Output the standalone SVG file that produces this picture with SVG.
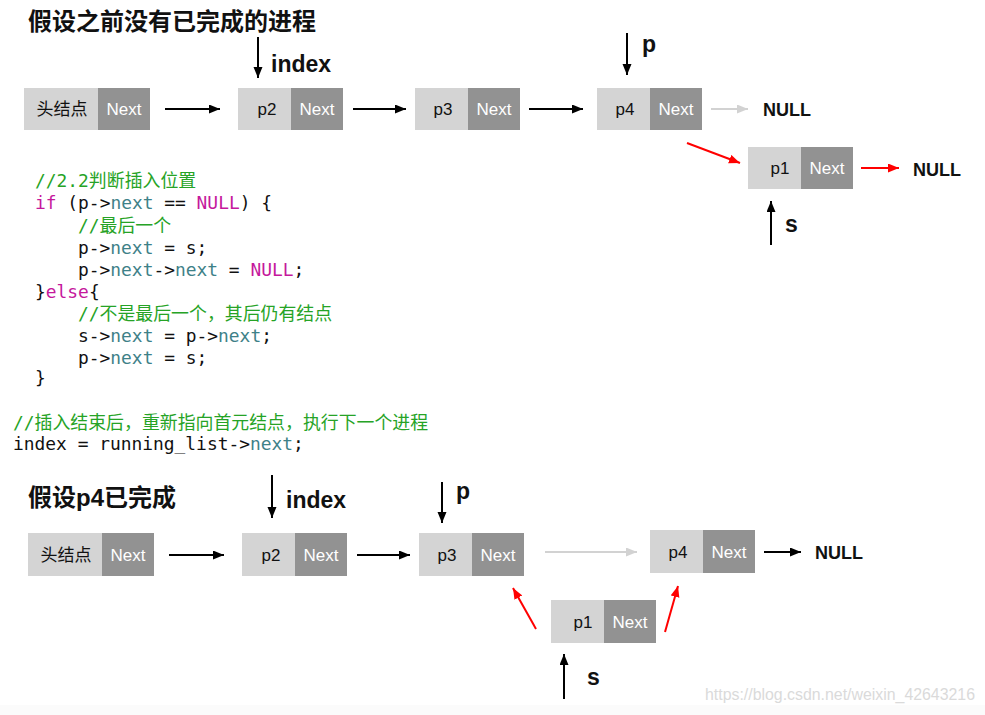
<svg xmlns="http://www.w3.org/2000/svg" width="985" height="715" viewBox="0 0 985 715">
<style>
.lt{fill:#d4d4d4}
.dk{fill:#929292}
.lbl{font-family:"Liberation Sans",Arial,sans-serif;font-size:17px;fill:#111;text-anchor:middle}
.cjk{font-family:"Liberation Sans","Noto Sans CJK SC",sans-serif}
.nx{font-family:"Liberation Sans",Arial,sans-serif;font-size:17px;fill:#fff;text-anchor:middle}
.title{font-family:"Liberation Sans","Noto Sans CJK SC",sans-serif;font-size:24px;font-weight:bold;fill:#111}
.big{font-family:"Liberation Sans",Arial,sans-serif;font-size:23px;font-weight:bold;fill:#111}
.null{font-family:"Liberation Sans",Arial,sans-serif;font-size:18px;font-weight:bold;fill:#111}
.code{font-family:"DejaVu Sans Mono","Noto Sans CJK SC",monospace;font-size:17.9px;fill:#111}
.cm{fill:#26a326}
.kw{fill:#c5189c}
.id{fill:#3e8188}
.blk{stroke:#000;stroke-width:2;fill:none}
.red{stroke:#ff0000;stroke-width:2;fill:none}
.gry{stroke:#d2d2d2;stroke-width:2;fill:none}
</style>
<defs>
<marker id="ab" markerUnits="userSpaceOnUse" markerWidth="12" markerHeight="10" refX="11" refY="4.5" orient="auto"><path d="M0,0 L11,4.5 L0,9 z" fill="#000"/></marker>
<marker id="ar" markerUnits="userSpaceOnUse" markerWidth="12" markerHeight="10" refX="11" refY="4.5" orient="auto"><path d="M0,0 L11,4.5 L0,9 z" fill="#ff0000"/></marker>
<marker id="ag" markerUnits="userSpaceOnUse" markerWidth="12" markerHeight="10" refX="11" refY="4.5" orient="auto"><path d="M0,0 L11,4.5 L0,9 z" fill="#d2d2d2"/></marker>
</defs>
<rect x="0" y="0" width="985" height="715" fill="#fff"/>
<rect x="0" y="705" width="985" height="10" fill="#fbfbfb"/>

<!-- Top section -->
<text class="title" x="28" y="30">假设之前没有已完成的进程</text>

<g id="head1">
<rect class="lt" x="24" y="88" width="74" height="42"/><rect class="dk" x="98" y="88" width="52" height="42"/>
<text class="lbl cjk" x="62" y="115">头结点</text><text class="nx" x="124" y="115">Next</text>
</g>
<g id="p2_top">
<rect class="lt" x="238" y="88" width="53" height="42"/><rect class="dk" x="291" y="88" width="52" height="42"/>
<text class="lbl" x="267" y="115">p2</text><text class="nx" x="317" y="115">Next</text>
</g>
<g id="p3_top">
<rect class="lt" x="415" y="88" width="53" height="42"/><rect class="dk" x="468" y="88" width="52" height="42"/>
<text class="lbl" x="443" y="115">p3</text><text class="nx" x="494" y="115">Next</text>
</g>
<g id="p4_top">
<rect class="lt" x="597" y="88" width="53" height="42"/><rect class="dk" x="650" y="88" width="52" height="42"/>
<text class="lbl" x="625" y="115">p4</text><text class="nx" x="676" y="115">Next</text>
</g>
<g id="p1_top">
<rect class="lt" x="748" y="147" width="53" height="42"/><rect class="dk" x="801" y="147" width="52" height="42"/>
<text class="lbl" x="780" y="174">p1</text><text class="nx" x="827" y="174">Next</text>
</g>
<g id="null_top1"><text class="null" x="763" y="116">NULL</text></g>
<g id="null_top2"><text class="null" x="913" y="176">NULL</text></g>
<g id="index_top"><text class="big" x="271" y="72">index</text></g>
<g id="p_top"><text class="big" x="642" y="52">p</text></g>
<g id="s_top"><text class="big" x="785" y="232">s</text></g>

<!-- Code -->
<g id="code">
<text class="code cm" x="35" y="187">//2.2判断插入位置</text>
<text class="code" x="35" y="209"><tspan class="kw">if</tspan> (p-&gt;<tspan class="id">next</tspan> == <tspan class="kw">NULL</tspan>) {</text>
<text class="code cm" x="78" y="231.5">//最后一个</text>
<text class="code" x="78" y="253.5">p-&gt;<tspan class="id">next</tspan> = s;</text>
<text class="code" x="78" y="275.5">p-&gt;<tspan class="id">next</tspan>-&gt;<tspan class="id">next</tspan> = <tspan class="kw">NULL</tspan>;</text>
<text class="code" x="35" y="297.5">}<tspan class="kw">else</tspan>{</text>
<text class="code cm" x="78" y="320">//不是最后一个，其后仍有结点</text>
<text class="code" x="78" y="342">s-&gt;<tspan class="id">next</tspan> = p-&gt;<tspan class="id">next</tspan>;</text>
<text class="code" x="78" y="364">p-&gt;<tspan class="id">next</tspan> = s;</text>
<text class="code" x="35" y="384">}</text>
<text class="code cm" x="13" y="429">//插入结束后，重新指向首元结点，执行下一个进程</text>
<text class="code" x="13" y="450">index = running_list-&gt;<tspan class="id">next</tspan>;</text>
</g>

<!-- Bottom section -->
<text class="title" x="28" y="506">假设p4已完成</text>

<g id="head2">
<rect class="lt" x="28" y="533" width="74" height="43"/><rect class="dk" x="102" y="533" width="52" height="43"/>
<text class="lbl cjk" x="66" y="561">头结点</text><text class="nx" x="128" y="561">Next</text>
</g>
<g id="p2_bot">
<rect class="lt" x="242" y="533" width="53" height="43"/><rect class="dk" x="295" y="533" width="52" height="43"/>
<text class="lbl" x="271" y="561">p2</text><text class="nx" x="321" y="561">Next</text>
</g>
<g id="p3_bot">
<rect class="lt" x="419" y="533" width="53" height="43"/><rect class="dk" x="472" y="533" width="52" height="43"/>
<text class="lbl" x="447" y="561">p3</text><text class="nx" x="498" y="561">Next</text>
</g>
<g id="p4_bot">
<rect class="lt" x="650" y="530" width="53" height="43"/><rect class="dk" x="703" y="530" width="52" height="43"/>
<text class="lbl" x="678" y="558">p4</text><text class="nx" x="729" y="558">Next</text>
</g>
<g id="p1_bot">
<rect class="lt" x="551" y="600" width="53" height="43"/><rect class="dk" x="604" y="600" width="52" height="43"/>
<text class="lbl" x="583" y="628">p1</text><text class="nx" x="630" y="628">Next</text>
</g>
<g id="null_bot"><text class="null" x="815" y="559">NULL</text></g>
<g id="index_bot"><text class="big" x="286" y="508">index</text></g>
<g id="p_bot"><text class="big" x="456" y="499">p</text></g>
<g id="s_bot"><text class="big" x="587" y="685">s</text></g>

<g id="connectors">
<line class="blk" x1="258" y1="37" x2="258" y2="78" marker-end="url(#ab)"/>
<line class="blk" x1="165" y1="109" x2="220" y2="109" marker-end="url(#ab)"/>
<line class="blk" x1="353" y1="109" x2="406" y2="109" marker-end="url(#ab)"/>
<line class="blk" x1="529" y1="109" x2="583" y2="109" marker-end="url(#ab)"/>
<line class="blk" x1="627" y1="33" x2="627" y2="75" marker-end="url(#ab)"/>
<line class="gry" x1="711" y1="109" x2="748" y2="109" marker-end="url(#ag)"/>
<line class="red" x1="687" y1="143" x2="740" y2="163" marker-end="url(#ar)"/>
<line class="red" x1="861" y1="168" x2="899" y2="168" marker-end="url(#ar)"/>
<line class="blk" x1="771" y1="245" x2="771" y2="201" marker-end="url(#ab)"/>

<line class="blk" x1="272" y1="475" x2="272" y2="518" marker-end="url(#ab)"/>
<line class="blk" x1="442" y1="482" x2="442" y2="523" marker-end="url(#ab)"/>
<line class="blk" x1="169" y1="555" x2="224" y2="555" marker-end="url(#ab)"/>
<line class="blk" x1="357" y1="555" x2="410" y2="555" marker-end="url(#ab)"/>
<line class="gry" x1="545" y1="552" x2="637" y2="552" marker-end="url(#ag)"/>
<line class="blk" x1="764" y1="552" x2="801" y2="552" marker-end="url(#ab)"/>
<line class="red" x1="536" y1="629" x2="513" y2="588" marker-end="url(#ar)"/>
<line class="red" x1="665" y1="632" x2="678" y2="586" marker-end="url(#ar)"/>
<line class="blk" x1="564" y1="699" x2="564" y2="654" marker-end="url(#ab)"/>
</g>

<text x="705" y="700" textLength="270" lengthAdjust="spacingAndGlyphs" style="font-family:'Liberation Sans',Arial,sans-serif;font-size:16px;fill:#dadada">https://blog.csdn.net/weixin_42643216</text>
</svg>
